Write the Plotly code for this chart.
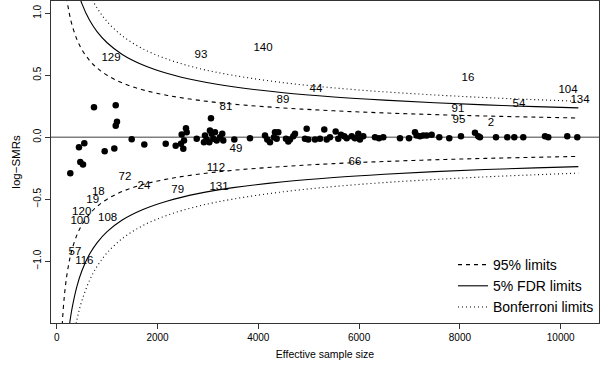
import plotly.graph_objects as go

# Funnel limit curves (effective sample size -> upper limit)
limit_n = [100, 130, 160, 200, 250, 300, 400, 500, 650, 800, 1000, 1300, 1700,
           2200, 2800, 3500, 4500, 5500, 6500, 7500, 8500, 9500, 10350]
lim95 = [1.580, 1.386, 1.249, 1.117, 0.999, 0.912, 0.790, 0.707, 0.620, 0.559, 0.500,
         0.438, 0.383, 0.337, 0.299, 0.267, 0.236, 0.213, 0.196, 0.182, 0.171, 0.162, 0.155]
limfdr = [2.410, 2.114, 1.905, 1.704, 1.524, 1.391, 1.205, 1.078, 0.945, 0.852, 0.762,
          0.668, 0.585, 0.514, 0.455, 0.407, 0.359, 0.325, 0.299, 0.278, 0.261, 0.247, 0.237]
limbonf = [2.950, 2.588, 2.332, 2.086, 1.866, 1.703, 1.475, 1.319, 1.157, 1.043, 0.933,
           0.818, 0.715, 0.629, 0.557, 0.499, 0.440, 0.398, 0.366, 0.341, 0.320, 0.303, 0.290]

# Unlabelled units (dots)
pt_n = [270, 442, 548, 468, 522, 740, 952, 1143, 1171, 1196, 1171, 1488, 1738, 2163,
        2361, 2466, 2512, 2480, 2565, 2579, 2526, 2778, 2922, 2942, 2976, 3041, 3061,
        3075, 3107, 3028, 3141, 3174, 3240, 3305, 3285, 3524, 3835, 4133, 4178, 4232,
        4331, 4397, 4311, 4365, 4549, 4595, 4629, 4694, 4728, 4926, 4960, 4992, 5125,
        5224, 5309, 5357, 5422, 5535, 5587, 5641, 5706, 5754, 5853, 5918, 5984, 6017,
        6083, 6315, 6394, 6480, 6811, 6990, 7109, 7142, 7208, 7273, 7341, 7440, 7591,
        7789, 8021, 8299, 8365, 8398, 8716, 8940, 9079, 9257, 9688, 9753, 10130, 10329]
pt_y = [-0.290, -0.080, -0.048, -0.201, -0.220, 0.241, -0.113, -0.091, 0.257, 0.124,
        0.092, -0.016, -0.059, -0.053, -0.069, -0.053, -0.093, 0.022, 0.072, 0.040,
        -0.027, -0.013, -0.040, 0.014, -0.019, 0.054, 0.153, 0.027, -0.013, -0.040,
        0.040, -0.027, 0.000, -0.027, 0.027, -0.019, -0.008, 0.014, -0.019, -0.040,
        0.040, 0.040, 0.000, -0.013, -0.013, -0.035, -0.019, 0.008, 0.027, -0.013,
        0.068, -0.019, -0.019, -0.013, 0.062, -0.019, 0.000, 0.046, -0.013, 0.019,
        0.008, -0.008, 0.008, -0.008, 0.027, -0.019, 0.008, 0.000, -0.008, 0.000,
        -0.008, -0.008, 0.040, 0.014, 0.008, 0.014, 0.014, 0.019, 0.000, -0.008,
        0.008, 0.035, 0.008, 0.000, 0.000, 0.000, 0.000, 0.000, 0.008, 0.000, 0.008, 0.000]

# Labelled outlying units
lab_text = ["129", "93", "140", "16", "104", "134", "54", "44", "89", "81", "91", "95",
            "2", "49", "112", "66", "72", "24", "79", "131", "18", "19", "120", "100",
            "108", "57", "116"]
lab_n = [1077, 2863, 4093, 8161, 10145, 10383, 9173, 5145, 4490, 3359, 7962, 7982,
         8617, 3558, 3161, 5919, 1355, 1732, 2402, 3220, 826, 714, 496, 462,
         1010, 363, 548]
lab_y = [0.641, 0.665, 0.722, 0.480, 0.376, 0.303, 0.263, 0.384, 0.303, 0.239, 0.223,
         0.134, 0.110, -0.099, -0.252, -0.204, -0.321, -0.397, -0.429, -0.405, -0.443,
         -0.510, -0.604, -0.676, -0.649, -0.925, -0.999]

legend_names = ["95% limits", "5% FDR limits", "Bonferroni limits"]

FONT = "Liberation Sans, Arial, Helvetica, sans-serif"
fig = go.Figure()

styles = [(lim95, "4px,4px"), (limfdr, "solid"), (limbonf, "1px,3px")]
for (vals, dash), name in zip(styles, legend_names):
    fig.add_trace(go.Scatter(x=limit_n, y=vals, mode="lines", name=name,
                             line=dict(color="black", width=1.1, dash=dash, shape="spline"),
                             showlegend=True, hoverinfo="skip"))
    fig.add_trace(go.Scatter(x=limit_n, y=[-v for v in vals], mode="lines", name=name,
                             line=dict(color="black", width=1.1, dash=dash, shape="spline"),
                             showlegend=False, hoverinfo="skip"))

fig.add_trace(go.Scatter(x=pt_n, y=pt_y, mode="markers", showlegend=False,
                         marker=dict(color="black", size=6.5, line=dict(width=0)),
                         cliponaxis=True))
fig.add_trace(go.Scatter(x=lab_n, y=lab_y, mode="text", text=lab_text, showlegend=False,
                         textfont=dict(family=FONT, size=11.5, color="black"),
                         textposition="middle center"))

fig.add_hline(y=0, line=dict(color="#7f7f7f", width=1.6), layer="below")

fig.update_layout(
    width=600, height=374,
    margin=dict(l=51, r=1, t=1, b=51),
    paper_bgcolor="white", plot_bgcolor="white",
    font=dict(family=FONT, color="black"),
    legend=dict(x=1, y=0.0, xanchor="right", yanchor="bottom",
                font=dict(size=14, family=FONT), bgcolor="rgba(0,0,0,0)",
                borderwidth=0, tracegroupgap=0),
)
fig.update_xaxes(range=[-113, 10760], tickvals=[0, 2000, 4000, 6000, 8000, 10000],
                 tickformat="d",
                 ticks="outside", ticklen=5, tickcolor="#333", tickfont=dict(size=10),
                 showline=True, linecolor="#333", linewidth=1, mirror=True,
                 showgrid=False, zeroline=False,
                 title=dict(text="Effective sample size", font=dict(size=10.5), standoff=8))
fig.update_yaxes(range=[-1.499, 1.099], tickvals=[-1.0, -0.5, 0.0, 0.5, 1.0],
                 ticktext=["\u22121.0", "\u22120.5", "0.0", "0.5", "1.0"],
                 ticks="outside", ticklen=5, tickcolor="#333", tickfont=dict(size=10),
                 tickangle=-90,
                 showline=True, linecolor="#333", linewidth=1, mirror=True,
                 showgrid=False, zeroline=False,
                 title=dict(text="log\u2212SMRs", font=dict(size=11.5), standoff=8))

fig.write_html("out.html", config={"displayModeBar": False},
               post_script="document.body.style.margin='0px';")
